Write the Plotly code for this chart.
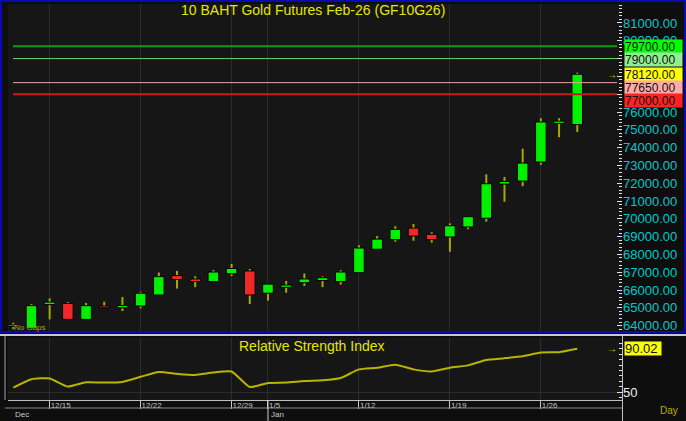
import plotly.graph_objects as go

# ---------------- data ----------------
dates = ["2025-12-11", "2025-12-12", "2025-12-15", "2025-12-16", "2025-12-17", "2025-12-18",
         "2025-12-19", "2025-12-22", "2025-12-23", "2025-12-24", "2025-12-25", "2025-12-26",
         "2025-12-29", "2025-12-30", "2026-01-05", "2026-01-06", "2026-01-07", "2026-01-08",
         "2026-01-09", "2026-01-12", "2026-01-13", "2026-01-14", "2026-01-15", "2026-01-16",
         "2026-01-19", "2026-01-20", "2026-01-21", "2026-01-22", "2026-01-23", "2026-01-26",
         "2026-01-27", "2026-01-28"]
opens = [63950, 63850, 65180, 65250, 64350, 65100, 65000, 65100, 65720, 66810, 66620, 66470,
         66910, 67070, 65820, 66150, 66410, 66530, 66470, 66970, 68290, 68830, 69480, 69130,
         68980, 69540, 70030, 71950, 72120, 73190, 75360, 75290]
highs = [64160, 65210, 65530, 65330, 65270, 65340, 65610, 65900, 66980, 67070, 66770, 67120,
         67460, 67180, 66330, 66510, 66930, 66770, 67110, 68510, 69030, 69580, 69710, 69240,
         69740, 70120, 72500, 72350, 73940, 75650, 75650, 78210]
lows = [63800, 63850, 64350, 64350, 64350, 65000, 64820, 64970, 65720, 66080, 66160, 66470,
        66790, 65210, 65400, 65850, 66230, 66160, 66300, 66970, 68290, 68710, 68770, 68660,
        68150, 69410, 69840, 70960, 71830, 73040, 74580, 74880]
closes = [64040, 65120, 65320, 64350, 65120, 65000, 65130, 65820, 66750, 66590, 66470, 67010,
          67210, 65720, 66330, 66280, 66620, 66690, 67010, 68360, 68860, 69410, 69030, 68830,
          69610, 70120, 71970, 72100, 73130, 75440, 75490, 78120]
rsi = [54.1, 61.9, 62.6, 55.1, 59.1, 58.8, 59.4, 64.1, 68.5, 66.9, 65.9, 68.2, 69.1, 54.7,
       58.4, 58.8, 60.3, 61.0, 63.1, 71.0, 72.5, 75.3, 71.0, 69.1, 72.5, 74.7, 79.7, 81.3,
       83.2, 86.6, 86.9, 90.02]
week_dates = ["2025-12-15", "2025-12-22", "2025-12-29", "2026-01-05", "2026-01-12",
              "2026-01-19", "2026-01-26"]
week_labels = ["12/15", "12/22", "12/29", "1/5", "1/12", "1/19", "1/26"]
month_dates = ["2025-12-11", "2026-01-05"]
month_labels = ["Dec", "Jan"]
price_ticks = list(range(64000, 81001, 1000))
level_values = [79700, 79000, 77650, 77000]
level_line_colors = ["#109a10", "#66d866", "#e8a4a4", "#c81c1c"]
level_line_widths = [2, 1, 1, 2]
level_box_colors = ["#00ff00", "#90ee90", "#ffaaaa", "#ff2222"]
title_text = "10 BAHT Gold Futures Feb-26 (GF10G26)"
rsi_title = "Relative Strength Index"

# ---------------- geometry helpers (layout only) ----------------
W, H = 686, 421
ML, MR, MT, MB = 8, 64, 4, 21
PW, PH = W - ML - MR, H - MT - MB
MAIN_BOTTOM_PX = 331


def pxx(x):
    return (x - ML) / PW


def pxy(y):
    return (H - MB - y) / PH


xi = list(range(len(dates)))
week_idx = [dates.index(d) for d in week_dates]
month_idx = [dates.index(d) for d in month_dates]
x_range = [-0.29, 33.46]
main_range = [63697, 82067]

GREEN = "#00f000"
RED = "#f02828"
WICK = "#a8a800"
FONT = "Liberation Sans, Arial, sans-serif"
BOX_H = 13
BOX_FONT = 12

body_base = [min(o, c) for o, c in zip(opens, closes)]
body_h = [abs(c - o) for o, c in zip(opens, closes)]
body_col = [GREEN if c >= o else RED for o, c in zip(opens, closes)]
wick_h = [h - l for h, l in zip(highs, lows)]

# price labels that sit fully under a coloured value box are not visible in the reference
boxed = level_values + [closes[-1]]
price_text = ["" if any(abs(t - b) < 250 for b in boxed) else f"{t:.2f}" for t in price_ticks]


def val_to_px(v):
    return MT + (main_range[1] - v) / (main_range[1] - main_range[0]) * (MAIN_BOTTOM_PX - MT)


# value boxes on the right axis, stacked so they do not cover each other
box_items = [(v, bg) for v, bg in zip(level_values, level_box_colors)] + [(closes[-1], "#ffff00")]
box_items.sort(key=lambda t: -t[0])
box_shift = []
prev_bottom = -1e9
for v, bg in box_items:
    c = val_to_px(v)
    top = max(c - BOX_H / 2, prev_bottom)
    prev_bottom = top + BOX_H
    box_shift.append(c - (top + BOX_H / 2))

fig = go.Figure()
fig.add_trace(go.Bar(x=xi, y=wick_h, base=lows, width=0.11,
                     marker=dict(color=WICK, line=dict(width=0)),
                     xaxis="x", yaxis="y", hoverinfo="skip"))
fig.add_trace(go.Bar(x=xi, y=body_h, base=body_base, width=0.58,
                     marker=dict(color=body_col, line=dict(color="#000000", width=1)),
                     xaxis="x", yaxis="y", hoverinfo="skip"))
fig.add_trace(go.Scatter(x=xi, y=rsi, mode="lines",
                         line=dict(color="#b8b400", width=2, shape="spline", smoothing=0.5),
                         xaxis="x2", yaxis="y2", hoverinfo="skip"))

shapes = []
for v, c, w in zip(level_values, level_line_colors, level_line_widths):
    shapes.append(dict(type="line", xref="paper", yref="y", x0=pxx(13), x1=pxx(617),
                       y0=v, y1=v, line=dict(color=c, width=w), layer="above"))

# frame decorations
shapes += [
    dict(type="rect", xref="paper", yref="paper", x0=pxx(1), x1=pxx(685), y0=pxy(332), y1=pxy(1),
         line=dict(color="#0a0ab4", width=2), layer="above"),
    dict(type="line", xref="paper", yref="paper", x0=pxx(0), x1=pxx(686), y0=pxy(335), y1=pxy(335),
         line=dict(color="#c8c8c8", width=2), layer="above"),
    dict(type="line", xref="paper", yref="paper", x0=pxx(5), x1=pxx(5), y0=pxy(336), y1=pxy(400),
         line=dict(color="#a0a0a0", width=1), layer="above"),
    dict(type="line", xref="paper", yref="paper", x0=pxx(622.5), x1=pxx(622.5), y0=pxy(336), y1=pxy(421),
         line=dict(color="#c0c0c0", width=1), layer="above"),
    dict(type="line", xref="paper", yref="paper", x0=pxx(5), x1=pxx(622), y0=pxy(408), y1=pxy(408),
         line=dict(color="#8a8a8a", width=1), layer="above"),
    dict(type="line", xref="x2", yref="paper", x0=month_idx[1], x1=month_idx[1], y0=pxy(400), y1=pxy(421),
         line=dict(color="#d0d0d0", width=1), layer="above"),
]

annotations = [
    dict(text=title_text, xref="paper", yref="paper", x=pxx(313), y=pxy(10), xanchor="center",
         yanchor="middle", showarrow=False, font=dict(family=FONT, size=14, color="#e6e600")),
    dict(text=rsi_title, xref="paper", yref="paper", x=pxx(312), y=pxy(346), xanchor="center",
         yanchor="middle", showarrow=False, font=dict(family=FONT, size=14, color="#e6e600")),
    dict(text="No Gaps", xref="paper", yref="paper", x=pxx(12), y=pxy(327), xanchor="left",
         yanchor="middle", showarrow=False, font=dict(family=FONT, size=8, color="#a8a800")),
    dict(text="Day", xref="paper", yref="paper", x=pxx(658), y=pxy(410), xanchor="left",
         yanchor="middle", showarrow=False, font=dict(family=FONT, size=10, color="#b8b000")),
]
box_kw = dict(xref="paper", x=1, xanchor="left", xshift=2, yanchor="middle", showarrow=False,
              borderpad=0, height=BOX_H, width=57, align="left")
for (v, bg), sh in zip(box_items, box_shift):
    annotations.append(dict(text=f"{v:.2f}", yref="y", y=v, yshift=sh, bgcolor=bg,
                            font=dict(family=FONT, size=BOX_FONT, color="#101010"), **box_kw))
annotations.append(dict(text="→", xref="paper", yref="y", x=1, y=closes[-1], xanchor="right",
                        xshift=-3, yanchor="middle", showarrow=False,
                        font=dict(family=FONT, size=10, color="#e6e600")))
rsi_kw = dict(box_kw)
rsi_kw["width"] = 36
annotations.append(dict(text=f"{rsi[-1]:.2f}", yref="y2", y=rsi[-1], bgcolor="#ffff00",
                        font=dict(family=FONT, size=13, color="#101010"), **rsi_kw))
annotations.append(dict(text="→", xref="paper", yref="y2", x=1, y=rsi[-1], xanchor="right",
                        xshift=-3, yanchor="middle", showarrow=False,
                        font=dict(family=FONT, size=10, color="#e6e600")))
for i, lab in zip(month_idx, month_labels):
    annotations.append(dict(text=lab, xref="x2", yref="paper", x=i, y=pxy(414.5), xanchor="left",
                            xshift=1 if i else 0, yanchor="middle", showarrow=False,
                            font=dict(family=FONT, size=8, color="#c8c8c8")))

GRID = "#2c2c2c"
TICKC = "#e0e0e0"

fig.update_layout(
    width=W, height=H,
    margin=dict(l=ML, r=MR, t=MT, b=MB, pad=0),
    paper_bgcolor="#0e0e0e", plot_bgcolor="#161616",
    showlegend=False, barmode="overlay",
    font=dict(family=FONT),
    shapes=shapes, annotations=annotations,
    xaxis=dict(domain=[0, 1], anchor="y", range=x_range, tickmode="array", tickvals=week_idx,
               showticklabels=False, ticks="", showgrid=True, gridcolor=GRID, zeroline=False,
               showline=False, fixedrange=True),
    yaxis=dict(domain=[pxy(MAIN_BOTTOM_PX), 1], anchor="x", side="right", range=main_range,
               tickmode="array", tickvals=price_ticks, ticktext=price_text,
               tickfont=dict(family=FONT, size=13, color="#00c8cc"),
               ticks="inside", ticklen=5, tickcolor=TICKC, tickwidth=1,
               minor=dict(tickmode="linear", tick0=64000, dtick=200, ticks="inside", ticklen=3,
                          tickcolor=TICKC, showgrid=False),
               showgrid=False, zeroline=False, showline=False),
    yaxis3=dict(overlaying="y", anchor="x", side="left", range=main_range,
                tickmode="linear", tick0=64000, dtick=2000, showticklabels=False,
                ticks="outside", ticklen=4, tickcolor=TICKC,
                minor=dict(tickmode="linear", tick0=64000, dtick=200, ticks="outside", ticklen=2,
                           tickcolor=TICKC, showgrid=False),
                showgrid=True, gridcolor=GRID, zeroline=False, showline=False),
    xaxis2=dict(domain=[0, 1], anchor="y2", range=x_range, tickmode="array", tickvals=week_idx,
                ticktext=week_labels, ticks="outside", ticklen=8, tickcolor="#c8c8c8",
                ticklabelposition="outside right", ticklabelstandoff=-3,
                tickfont=dict(family=FONT, size=8, color="#c8c8c8"),
                showline=True, linecolor="#c0c0c0", linewidth=1,
                showgrid=True, gridcolor=GRID, zeroline=False),
    yaxis2=dict(domain=[0, pxy(338)], anchor="x2", side="right", range=[42.7, 100],
                tickmode="array", tickvals=[50], tickfont=dict(family=FONT, size=13, color="#eeeeee"),
                ticks="inside", ticklen=5, tickcolor=TICKC,
                minor=dict(tickmode="linear", tick0=0, dtick=5, ticks="inside", ticklen=3,
                           tickcolor=TICKC, showgrid=False),
                showgrid=True, gridcolor=GRID, zeroline=False, showline=False),
)

fig.write_html("out.html", config={"displayModeBar": False},
               post_script="document.body.style.margin='0px';")
